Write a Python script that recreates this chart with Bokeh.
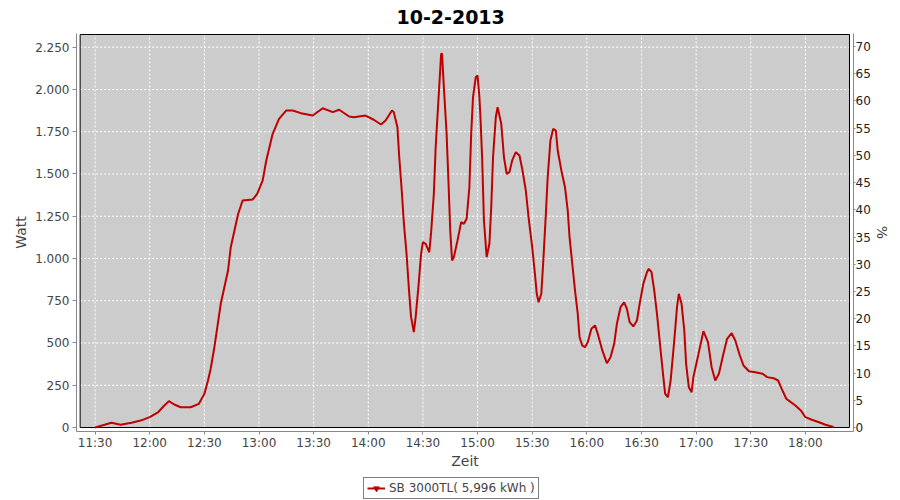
import pandas as pd
from bokeh.plotting import figure
from bokeh.layouts import column
from bokeh.models import (Range1d, LinearAxis, FixedTicker, Legend, LegendItem,
                          ColumnDataSource)
from bokeh.embed import file_html
from bokeh.resources import INLINE

# ---------------- data ----------------
title_text = "10-2-2013"
series_label = "SB 3000TL( 5,996 kWh )"

zeit = ["11:30", "11:39", "11:44", "11:50", "11:55", "12:00", "12:04:30", "12:07:30",
        "12:10:30", "12:13:30", "12:17", "12:22:30", "12:27", "12:30", "12:32", "12:33:30",
        "12:35:30", "12:39", "12:43", "12:44:30", "12:48:30", "12:51", "12:56:30", "12:59",
        "13:02", "13:04", "13:07:30", "13:11", "13:15", "13:18:30", "13:23", "13:29:30",
        "13:35", "13:40:30", "13:44", "13:49:30", "13:52", "13:58:30", "14:03", "14:07",
        "14:09:30", "14:13", "14:14", "14:16", "14:17", "14:18:30", "14:19:30", "14:21",
        "14:22:30", "14:23:30", "14:25", "14:26", "14:27:30", "14:29", "14:30", "14:31:30",
        "14:33:30", "14:34:30", "14:36", "14:37", "14:38:30", "14:40", "14:40:30", "14:41:30",
        "14:43", "14:44", "14:45", "14:46", "14:47", "14:49", "14:51", "14:52:30",
        "14:54", "14:55:30", "14:56:30", "14:57:30", "14:59", "15:00", "15:01", "15:01:30",
        "15:02:30", "15:03:30", "15:05", "15:06:30", "15:07:30", "15:08:30", "15:10", "15:11",
        "15:13", "15:14:30", "15:16", "15:17:30", "15:19", "15:21", "15:23", "15:24:30",
        "15:26:30", "15:28", "15:30", "15:31:30", "15:32:30", "15:33:30", "15:35", "15:36",
        "15:37:30", "15:38:30", "15:40", "15:41:30", "15:43", "15:44", "15:46", "15:48",
        "15:49:30", "15:50:30", "15:52", "15:53:30", "15:55", "15:56", "15:57:30", "15:59",
        "16:00:30", "16:02:30", "16:04:30", "16:06", "16:07:30", "16:08:30", "16:11", "16:13",
        "16:15", "16:16:30", "16:18:30", "16:20:30", "16:22", "16:23:30", "16:25:30", "16:27:30",
        "16:29", "16:31", "16:33", "16:34", "16:35:30", "16:37", "16:38:30", "16:40:30",
        "16:42", "16:43", "16:44:30", "16:46", "16:48", "16:49:30", "16:50:30", "16:52",
        "16:53:30", "16:54:30", "16:56", "16:57:30", "16:58:30", "17:00:30", "17:02:30", "17:04",
        "17:06:30", "17:08:30", "17:10:30", "17:12:30", "17:15", "17:17", "17:19:30", "17:21:30",
        "17:24", "17:26", "17:29", "17:32:30", "17:36:30", "17:39", "17:42:30", "17:45",
        "17:47", "17:49:30", "17:52", "17:54:30", "17:57:30", "18:00", "18:03:30", "18:07:30",
        "18:11", "18:14:30", "18:15:30"]

watt = [0, 28, 16, 28, 41, 61, 89, 124,
        156, 136, 120, 120, 140, 199, 278, 349,
        475, 732, 929, 1067, 1262, 1343, 1349, 1383,
        1461, 1580, 1738, 1826, 1876, 1876, 1860, 1846,
        1889, 1866, 1880, 1840, 1836, 1846, 1821, 1793,
        1817, 1876, 1866, 1777, 1599, 1383, 1215, 1028,
        791, 653, 564, 653, 830, 1028, 1097, 1087,
        1037, 1156, 1383, 1659, 1935, 2211, 2211, 2014,
        1738, 1461, 1166, 988, 1008, 1107, 1215, 1205,
        1235, 1422, 1738, 1955, 2072, 2083, 1955, 1856,
        1599, 1225, 1008, 1087, 1303, 1599, 1836, 1895,
        1797, 1599, 1500, 1511, 1580, 1629, 1609, 1531,
        1402, 1244, 1067, 909, 791, 741, 791, 969,
        1264, 1481, 1698, 1767, 1757, 1639, 1521, 1422,
        1284, 1126, 969, 811, 673, 534, 485, 475,
        505, 584, 604, 554, 495, 456, 380, 416,
        495, 614, 712, 741, 702, 623, 598, 633,
        732, 850, 919, 939, 919, 811, 673, 456,
        298, 199, 179, 278, 515, 712, 791, 732,
        574, 377, 238, 209, 298, 396, 495, 570,
        505, 357, 278, 318, 436, 525, 558, 515,
        426, 367, 333, 327, 318, 298, 292, 278,
        229, 170, 150, 130, 101, 61, 46, 31,
        16, 6, 0]

x_ticks = ["11:30", "12:00", "12:30", "13:00", "13:30", "14:00", "14:30",
           "15:00", "15:30", "16:00", "16:30", "17:00", "17:30", "18:00"]
watt_ticks = [0, 250, 500, 750, 1000, 1250, 1500, 1750, 2000, 2250]
watt_tick_labels = ["0", "250", "500", "750", "1.000", "1.250", "1.500",
                    "1.750", "2.000", "2.250"]
pct_ticks = [0, 5, 10, 15, 20, 25, 30, 35, 40, 45, 50, 55, 60, 65, 70]

# axis extents
box_left, box_right = "11:21:48", "18:24:12"
view_left, view_right = "11:19:48", "18:26:24"
box_bottom, box_top = 0, 2325.4
watt_view = (-23.7, 2331.3)
pct_view = (-0.735, 72.39)


def to_min(s):
    parts = [int(v) for v in s.split(":")]
    return parts[0] * 60 + parts[1] + (parts[2] / 60.0 if len(parts) > 2 else 0.0)


FONT = "DejaVu Sans"
LABEL_COL = "#444444"
AXIS_COL = "#888888"
RED = "#BE0000"

df = pd.DataFrame({"t": [to_min(z) for z in zeit], "w": watt})
src = ColumnDataSource(df)

p = figure(width=900, height=472, output_backend="svg", toolbar_location=None,
           x_range=Range1d(to_min(view_left), to_min(view_right)),
           y_range=Range1d(*watt_view),
           min_border_left=76, min_border_right=47, min_border_top=33,
           min_border_bottom=41)
p.outline_line_color = None
p.background_fill_color = "white"
p.border_fill_color = "white"
p.xgrid.visible = False
p.ygrid.visible = False

# title
p.title.text = title_text
p.title.text_font = FONT
p.title.text_font_size = "19px"
p.title.text_font_style = "bold"
p.title.text_color = "black"
p.title.align = "left"
p.title.vertical_align = "top"
p.title.offset = 320
p.title.standoff = 16

bl, br = to_min(box_left), to_min(box_right)

# plot background
p.quad(left=[bl], right=[br], bottom=[box_bottom], top=[box_top],
       fill_color="#CCCCCC", line_color=None)

# grid lines
xt = [to_min(t) for t in x_ticks]
p.segment(x0=xt, y0=[box_bottom] * len(xt), x1=xt, y1=[box_top] * len(xt),
          line_color="white", line_width=1, line_dash="2 2")
p.segment(x0=[bl] * len(watt_ticks), y0=watt_ticks, x1=[br] * len(watt_ticks),
          y1=watt_ticks, line_color="white", line_width=1, line_dash="2 2")

# box outline
p.quad(left=[bl], right=[br], bottom=[box_bottom], top=[box_top],
       fill_color=None, line_color="black", line_width=1)

# data line
p.line("t", "w", source=src, line_color=RED, line_width=2)


# axes styling
def style_axis(ax, tick_out):
    ax.axis_line_color = AXIS_COL
    ax.major_tick_line_color = AXIS_COL
    ax.minor_tick_line_color = None
    ax.major_tick_in = 0
    ax.major_tick_out = tick_out
    ax.major_label_text_font = FONT
    ax.major_label_text_font_size = "12px"
    ax.major_label_text_color = LABEL_COL
    ax.axis_label_text_font = FONT
    ax.axis_label_text_font_size = "14px"
    ax.axis_label_text_font_style = "normal"
    ax.axis_label_text_color = LABEL_COL


xa = p.xaxis[0]
style_axis(xa, 3)
xa.ticker = FixedTicker(ticks=xt)
xa.major_label_overrides = {to_min(t): t for t in x_ticks}
xa.axis_label = "Zeit"
xa.major_label_standoff = 1
xa.axis_label_standoff = 0

ya = p.yaxis[0]
style_axis(ya, 4)
ya.ticker = FixedTicker(ticks=watt_ticks)
ya.major_label_overrides = {v: s for v, s in zip(watt_ticks, watt_tick_labels)}
ya.axis_label = "Watt"
ya.major_label_standoff = 3
ya.axis_label_standoff = 3

p.extra_y_ranges = {"pct": Range1d(*pct_view)}
ra = LinearAxis(y_range_name="pct")
style_axis(ra, 2)
ra.ticker = FixedTicker(ticks=pct_ticks)
ra.axis_label = "%"
ra.major_label_standoff = 0
ra.axis_label_standoff = 0
ra.major_label_text_color = "#222222"
p.add_layout(ra, "right")

# legend strip below the chart (series drawn out of view, only its swatch shows)
lg = figure(width=900, height=28, output_backend="svg", toolbar_location=None,
            x_range=Range1d(0, 1), y_range=Range1d(0, 1),
            x_axis_type=None, y_axis_type=None,
            min_border_left=0, min_border_right=0, min_border_top=0,
            min_border_bottom=0)
lg.outline_line_color = None
lg.xgrid.visible = False
lg.ygrid.visible = False
lg.border_fill_color = "white"
lg.background_fill_color = "white"
leg_line = lg.line("t", "w", source=src, line_color=RED, line_width=2)
leg_mark = lg.scatter("t", "w", source=src, marker="inverted_triangle", size=4,
                      fill_color=RED, line_color=RED)
legend = Legend(items=[LegendItem(label=series_label, renderers=[leg_line, leg_mark],
                                  index=0)],
                location=(287, 1), orientation="horizontal",
                border_line_color="black", border_line_width=1,
                background_fill_color="white", background_fill_alpha=1.0,
                label_text_font=FONT, label_text_font_size="12px",
                label_text_color=LABEL_COL, glyph_width=18, glyph_height=14,
                label_height=14, padding=3, margin=0, spacing=0,
                label_standoff=4)
lg.add_layout(legend, "center")

page = column(p, lg, spacing=0)
open("out.html", "w").write(file_html(page, INLINE))
